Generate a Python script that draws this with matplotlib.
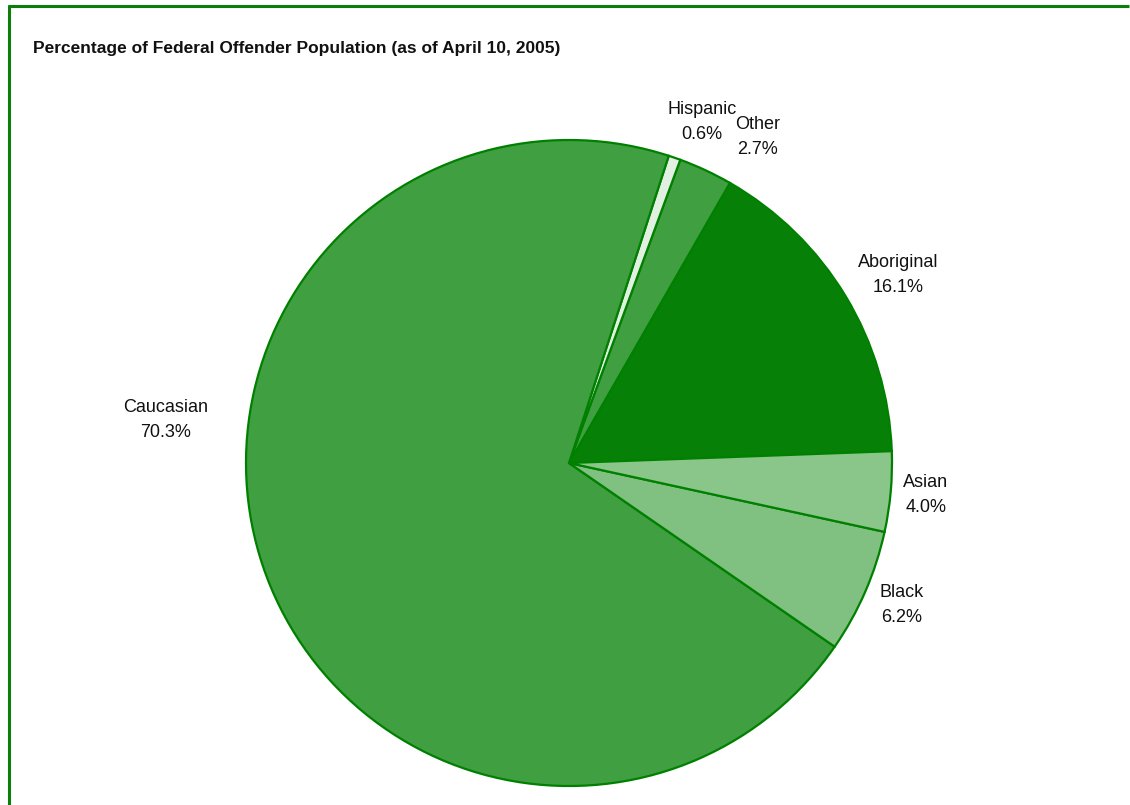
import matplotlib
matplotlib.use("Agg")
import matplotlib.pyplot as plt
from matplotlib.lines import Line2D
from matplotlib import font_manager

# Federal offender population by group, percent (counter-clockwise from Aboriginal)
groups = ["Aboriginal", "Other", "Hispanic", "Caucasian", "Black", "Asian"]
shares = [16.1, 2.7, 0.6, 70.3, 6.2, 4.0]
title = "Percentage of Federal Offender Population (as of April 10, 2005)"

colors = ["#078007", "#409f40", "#e2f0e2", "#409f40", "#80c080", "#8ac58a"]
edge = "#008000"

# label anchor points (pixels from top-left)
label_xy = {
    "Aboriginal": (898, 275),
    "Other": (758, 137),
    "Hispanic": (702, 122),
    "Caucasian": (166, 420),
    "Black": (902, 605),
    "Asian": (926, 495),
}

W, H = 1130, 805
fig = plt.figure(figsize=(W / 100, H / 100), dpi=100)
fig.patch.set_facecolor("white")
ax = fig.add_axes([0, 0, 1, 1])

cx, cy, r = 569, H - 463, 323
ax.pie(shares, colors=colors, startangle=2.1, counterclock=True,
       center=(cx, cy), radius=r,
       wedgeprops=dict(edgecolor=edge, linewidth=1.6))
ax.set_xlim(0, W)
ax.set_ylim(0, H)
ax.set_aspect("auto")
ax.axis("off")

label_font = ["Liberation Sans", "DejaVu Sans"]
for g, v in zip(groups, shares):
    x, y = label_xy[g]
    ax.text(x, H - y, f"{g}\n{v:.1f}%", ha="center", va="center",
            fontsize=13, family=label_font, color="#111111", linespacing=1.6)

names = {f.name for f in font_manager.fontManager.ttflist}
title_font = "Liberation Sans Narrow" if "Liberation Sans Narrow" in names else "Liberation Sans"
fig.text(33 / W, 1 - 48 / H, title, ha="left", va="center", fontsize=12.5,
         fontweight="bold", family=[title_font, "DejaVu Sans"], color="#111111")

# outer frame: top and left rules
fig.add_artist(Line2D([8 / W, 1129 / W], [1 - 6.5 / H, 1 - 6.5 / H],
                      transform=fig.transFigure, color="#0a800a", lw=2.2,
                      solid_capstyle="butt"))
fig.add_artist(Line2D([8.5 / W, 8.5 / W], [1 - 5.5 / H, 0],
                      transform=fig.transFigure, color="#0a800a", lw=2.2,
                      solid_capstyle="butt"))

fig.savefig("out.png", dpi=100, facecolor="white")
